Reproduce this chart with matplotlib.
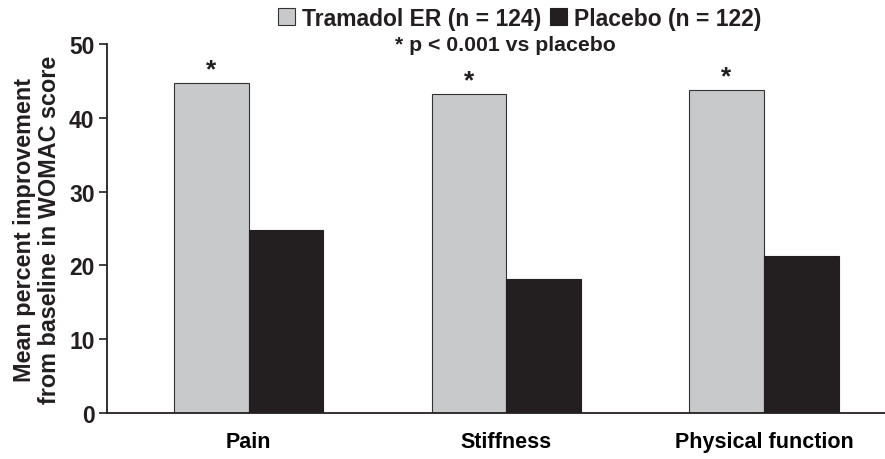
import matplotlib.pyplot as plt
import numpy as np

categories = ["Pain", "Stiffness", "Physical function"]
tramadol = [44.7, 43.3, 43.8]
placebo = [24.8, 18.1, 21.3]
series_names = ["Tramadol ER (n = 124)", "Placebo (n = 122)"]
note = "* p < 0.001 vs placebo"

font = "Liberation Sans"
gray = "#c8c9cb"
dark = "#231f20"

fig = plt.figure(figsize=(8.85, 4.6), dpi=100)
ax = fig.add_axes([0.121, 0.1, 0.879, 0.802])

x = np.arange(len(categories))
w = 0.29
ax.bar(x - w / 2, tramadol, w, color=gray, edgecolor="#333333", linewidth=0.8)
ax.bar(x + w / 2, placebo, w, color=dark, edgecolor=dark, linewidth=0.8)

for xi, v in zip(x, tramadol):
    ax.text(xi - w / 2, v + 0.2, "*", ha="center", va="bottom", fontsize=19,
            fontweight="bold", family=font, color=dark)

ax.set_xlim(-0.55, 2.47)
ax.set_ylim(0, 50)
ax.set_yticks([0, 10, 20, 30, 40, 50])
ax.set_xticks(x)
ax.set_xticklabels(categories)
ax.tick_params(axis="x", length=0, pad=13)
ax.tick_params(axis="y", length=6, width=1.2, direction="out", pad=3, colors=dark)
for lab in ax.get_xticklabels():
    lab.set_family(font)
    lab.set_fontweight("bold")
    lab.set_fontsize(15.5)
for lab in ax.get_yticklabels():
    lab.set_family(font)
    lab.set_fontweight("bold")
    lab.set_fontsize(16.5)
for s in ["top", "right"]:
    ax.spines[s].set_visible(False)
for s in ["left", "bottom"]:
    ax.spines[s].set_linewidth(1.3)
    ax.spines[s].set_color(dark)

ax.set_ylabel("Mean percent improvement\nfrom baseline in WOMAC score",
              family=font, fontweight="bold", fontsize=16.8, labelpad=6,
              linespacing=1.1, color=dark)

handles = [plt.Rectangle((0, 0), 1, 1, facecolor=gray, edgecolor="#333333", lw=0.8),
           plt.Rectangle((0, 0), 1, 1, facecolor=dark, edgecolor=dark, lw=0.8)]
fig.legend(handles, series_names, loc="center", bbox_to_anchor=(0.587, 0.958), ncol=2,
           frameon=False, handlelength=0.75, handleheight=0.75, handletextpad=0.3,
           columnspacing=0.4, borderpad=0, labelcolor=dark,
           prop={"family": font, "weight": "bold", "size": 16.5})
fig.text(0.571, 0.902, note, ha="center", va="center", family=font,
         fontweight="bold", fontsize=15.3, color=dark)

fig.savefig("out.png", dpi=100)
